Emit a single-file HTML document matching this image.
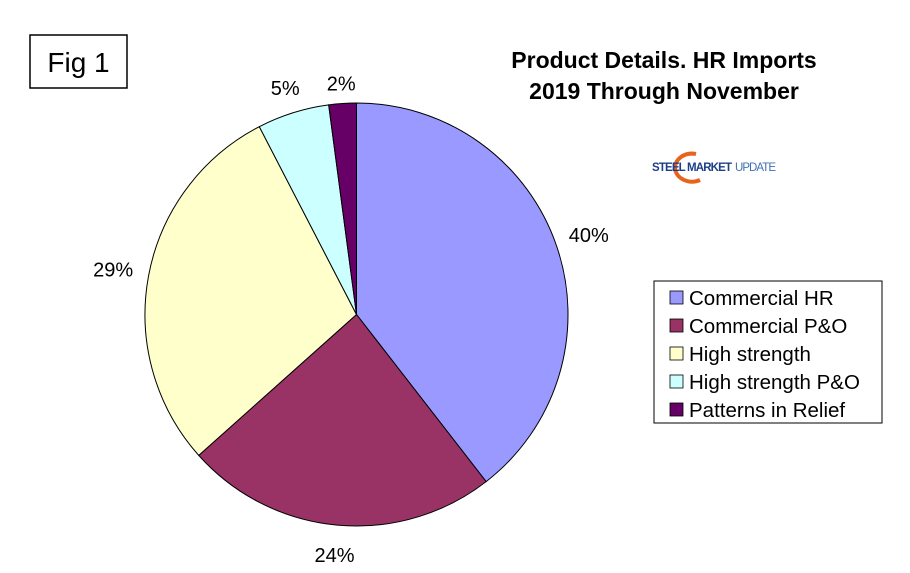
<!DOCTYPE html>
<html><head><meta charset="utf-8"><style>
body{margin:0;background:#fff;}
svg{display:block;font-family:"Liberation Sans",Arial,sans-serif;}
</style></head><body>
<svg id="chart" width="910" height="573">
<rect x="30" y="35" width="97" height="53" fill="#fff" stroke="#000" stroke-width="1.5"/>
<text x="78.5" y="72" font-size="28" text-anchor="middle">Fig 1</text>
<text x="664" y="68" font-size="23" font-weight="bold" text-anchor="middle">Product Details. HR Imports</text>
<text x="664" y="99" font-size="23" font-weight="bold" text-anchor="middle">2019 Through November</text>
<g>
<path d="M696,154 A17,14 0 1 0 700,180" fill="none" stroke="#e8641e" stroke-width="4"/>
<text x="652" y="171" font-size="11.5" font-weight="bold" fill="#1d3f8a" textLength="80">STEEL MARKET</text>
<text x="735" y="171" font-size="11.5" fill="#3f6fb5" textLength="41">UPDATE</text>
</g>
<g id="slices"></g>
<g id="labels"></g>
<rect x="654" y="281" width="228" height="142" fill="#fff" stroke="#000" stroke-width="1"/>
<g id="legend"></g>
</svg>
<script>
const categories=["Commercial HR","Commercial P&O","High strength","High strength P&O","Patterns in Relief"];
const values=[39.5,23.9,29.0,5.5,2.1];
const labels=["40%","24%","29%","5%","2%"];
const colors=["#9999ff","#993366","#ffffcc","#ccffff","#660066"];
const labelDist=[34,30,36,26,20];
const cx=356.5,cy=314.5,r=211.5;
const NS="http://www.w3.org/2000/svg";
const total=values.reduce((a,b)=>a+b,0);
function pt(frac,rad){const a=frac*2*Math.PI;return [cx+rad*Math.sin(a),cy-rad*Math.cos(a)];}
let acc=0;
const sg=document.getElementById('slices'),lg=document.getElementById('labels'),leg=document.getElementById('legend');
values.forEach((v,i)=>{
 const f0=acc/total,f1=(acc+v)/total;acc+=v;
 const [x0,y0]=pt(f0,r),[x1,y1]=pt(f1,r);
 const p=document.createElementNS(NS,'path');
 p.setAttribute('d',`M${cx},${cy}L${x0},${y0}A${r},${r} 0 ${f1-f0>0.5?1:0} 1 ${x1},${y1}Z`);
 p.setAttribute('fill',colors[i]);p.setAttribute('stroke','#000');p.setAttribute('stroke-width','1');
 
 
 sg.appendChild(p);
 const fm=(f0+f1)/2;const [lx,ly]=pt(fm,r+labelDist[i]);
 const t=document.createElementNS(NS,'text');
 t.setAttribute('x',lx);t.setAttribute('y',ly+7);t.setAttribute('font-size','20');t.setAttribute('text-anchor','middle');
 t.textContent=labels[i];
 
 
 lg.appendChild(t);
 const y=297+i*28;
 const s=document.createElementNS(NS,'rect');
 s.setAttribute('x',670);s.setAttribute('y',y-6);s.setAttribute('width',13);s.setAttribute('height',13);
 s.setAttribute('fill',colors[i]);s.setAttribute('stroke','#000');s.setAttribute('stroke-width','0.8');
 
 
 leg.appendChild(s);
 const lt=document.createElementNS(NS,'text');
 lt.setAttribute('x',689);lt.setAttribute('y',y+8);lt.setAttribute('font-size','20.5');
 lt.textContent=categories[i];
 
 
 leg.appendChild(lt);
});
</script>
</body></html>
